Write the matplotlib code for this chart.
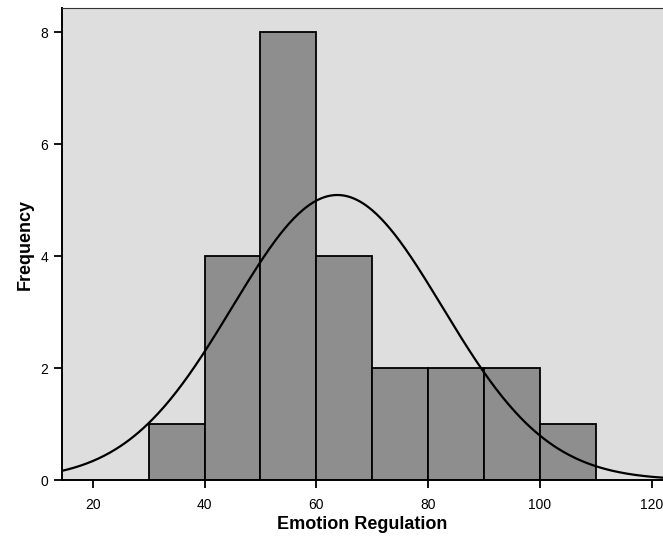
import numpy as np
import matplotlib.pyplot as plt

# Histogram bins and frequencies
bin_edges = [30, 40, 50, 60, 70, 80, 90, 100, 110]
counts = [1, 4, 8, 4, 2, 2, 2, 1]

# normal curve parameters (fit shown on the chart)
mean = 63.75
sd = 18.8
n = sum(counts)
bin_width = 10

x_ticks = [20, 40, 60, 80, 100, 120]
y_ticks = [0, 2, 4, 6, 8]

plt.rcParams['font.family'] = ['Liberation Sans', 'DejaVu Sans']

fig = plt.figure(figsize=(6.63, 5.48), dpi=100)
ax = fig.add_axes([0.0935, 0.124, 0.9065, 0.861])
ax.set_facecolor('#dedede')

ax.bar(bin_edges[:-1], counts, width=np.diff(bin_edges), align='edge',
       color='#8e8e8e', edgecolor='black', linewidth=1.3, zorder=2)

xs = np.linspace(14.5, 122, 400)
ys = n * bin_width / (sd * np.sqrt(2 * np.pi)) * np.exp(-(xs - mean) ** 2 / (2 * sd ** 2))
ax.plot(xs, ys, color='black', linewidth=1.6, zorder=3)

ax.set_xlim(14.5, 122)
ax.set_ylim(0, 8.43)
ax.set_xticks(x_ticks)
ax.set_yticks(y_ticks)
ax.tick_params(axis='both', labelsize=10, length=6, width=1.3, direction='out')
ax.tick_params(axis='x', pad=7)
ax.tick_params(axis='y', pad=4)

ax.spines['right'].set_visible(False)
ax.spines['top'].set_color('#333333')
for s in ['left', 'bottom']:
    ax.spines[s].set_linewidth(1.4)

ax.set_xlabel('Emotion Regulation', fontsize=13, fontweight='bold', labelpad=3)
ax.set_ylabel('Frequency', fontsize=13, fontweight='bold', labelpad=5)

fig.savefig('out.png', dpi=100)
